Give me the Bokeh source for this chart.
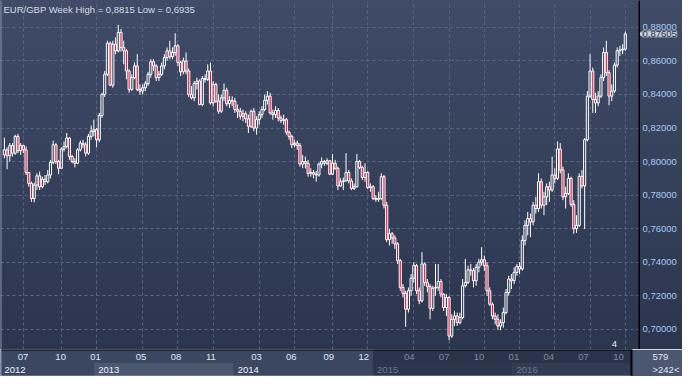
import math
import pandas as pd
from bokeh.plotting import figure
from bokeh.layouts import column, row
from bokeh.models import (Range1d, FixedTicker, Grid, Label, Span, ColumnDataSource)
from bokeh.embed import file_html
from bokeh.resources import INLINE
from bokeh.core.properties import value

FONT = "Liberation Sans"

# ---------------- data (weekly EUR/GBP candles) ----------------
title_text = "EUR/GBP Week High = 0,8815 Low = 0,6935"
first_week = "2012-05-13"

opens = [
    0.8040, 0.8070, 0.8035, 0.8095, 0.8050, 0.8150, 0.8065, 0.8095, 0.8070, 0.7935,
    0.7870, 0.7780, 0.7860, 0.7915, 0.7850, 0.7895, 0.7880, 0.7920, 0.7995, 0.8100,
    0.8000, 0.7960, 0.8075, 0.8090, 0.8140, 0.8030, 0.8000, 0.7990, 0.8070, 0.8110,
    0.8100, 0.8050, 0.8150, 0.8180, 0.8190, 0.8130, 0.8275, 0.8400, 0.8520, 0.8705,
    0.8455, 0.8700, 0.8660, 0.8770, 0.8680, 0.8660, 0.8540, 0.8430, 0.8500, 0.8570,
    0.8430, 0.8420, 0.8440, 0.8465, 0.8520, 0.8595, 0.8570, 0.8500, 0.8520, 0.8570,
    0.8620, 0.8660, 0.8625, 0.8650, 0.8690, 0.8590, 0.8535, 0.8600, 0.8540, 0.8400,
    0.8380, 0.8465, 0.8480, 0.8340, 0.8495, 0.8490, 0.8540, 0.8350, 0.8460, 0.8360,
    0.8300, 0.8380, 0.8425, 0.8345, 0.8365, 0.8360, 0.8310, 0.8300, 0.8270, 0.8285,
    0.8255, 0.8210, 0.8300, 0.8200, 0.8250, 0.8280, 0.8310, 0.8365, 0.8390, 0.8290,
    0.8280, 0.8305, 0.8260, 0.8245, 0.8250, 0.8175, 0.8150, 0.8100, 0.8110, 0.8095,
    0.7985, 0.8000, 0.7990, 0.7930, 0.7935, 0.7925, 0.7920, 0.7985, 0.8000, 0.7990,
    0.8005, 0.7925, 0.7990, 0.7960, 0.7855, 0.7880, 0.7885, 0.7935, 0.7885, 0.7840,
    0.7850, 0.8000, 0.7965, 0.7905, 0.7935, 0.7845, 0.7850, 0.7780, 0.7775, 0.7780,
    0.7910, 0.7740, 0.7535, 0.7570, 0.7545, 0.7510, 0.7410, 0.7250, 0.7215, 0.7120,
    0.7230, 0.7305, 0.7380, 0.7230, 0.7170, 0.7390, 0.7280, 0.7255, 0.7125, 0.7245,
    0.7250, 0.7285, 0.7210, 0.7130, 0.7190, 0.6960, 0.7060, 0.7080, 0.7040, 0.7070,
    0.7260, 0.7280, 0.7355, 0.7350, 0.7290, 0.7370, 0.7400, 0.7415, 0.7380, 0.7230,
    0.7150, 0.7080, 0.7060, 0.7020, 0.7040, 0.7100, 0.7220, 0.7300, 0.7290, 0.7340,
    0.7375, 0.7360, 0.7530, 0.7620, 0.7660, 0.7640, 0.7740, 0.7720, 0.7880, 0.7740,
    0.7790, 0.7850, 0.7830, 0.7920, 0.7900, 0.8075, 0.7950, 0.7790, 0.7810, 0.7900,
    0.7745, 0.7600, 0.7620, 0.7912, 0.7855, 0.8130, 0.8390, 0.8540, 0.8370, 0.8350,
    0.8390, 0.8500, 0.8650, 0.8530, 0.8390, 0.8420, 0.8575, 0.8660, 0.8665, 0.8670,
]
highs = [
    0.8143, 0.8085, 0.8110, 0.8110, 0.8160, 0.8165, 0.8110, 0.8100, 0.8090, 0.7935,
    0.7880, 0.7875, 0.7930, 0.7940, 0.7910, 0.7920, 0.7950, 0.8010, 0.8125, 0.8110,
    0.8010, 0.8085, 0.8120, 0.8170, 0.8145, 0.8040, 0.8020, 0.8080, 0.8125, 0.8130,
    0.8115, 0.8165, 0.8215, 0.8250, 0.8200, 0.8290, 0.8410, 0.8540, 0.8720, 0.8715,
    0.8720, 0.8740, 0.8815, 0.8790, 0.8720, 0.8670, 0.8550, 0.8520, 0.8590, 0.8640,
    0.8460, 0.8460, 0.8480, 0.8535, 0.8610, 0.8610, 0.8580, 0.8540, 0.8590, 0.8640,
    0.8680, 0.8720, 0.8680, 0.8765, 0.8700, 0.8600, 0.8620, 0.8650, 0.8555, 0.8450,
    0.8480, 0.8500, 0.8490, 0.8510, 0.8520, 0.8580, 0.8590, 0.8480, 0.8470, 0.8400,
    0.8400, 0.8465, 0.8440, 0.8390, 0.8390, 0.8380, 0.8340, 0.8320, 0.8310, 0.8300,
    0.8280, 0.8310, 0.8320, 0.8270, 0.8300, 0.8330, 0.8400, 0.8420, 0.8410, 0.8310,
    0.8330, 0.8320, 0.8275, 0.8280, 0.8260, 0.8185, 0.8160, 0.8130, 0.8125, 0.8110,
    0.8040, 0.8030, 0.8010, 0.7960, 0.7950, 0.7945, 0.7995, 0.8025, 0.8010, 0.8020,
    0.8010, 0.8045, 0.8010, 0.7970, 0.7900, 0.7905, 0.8050, 0.7950, 0.7900, 0.7870,
    0.8045, 0.8010, 0.7975, 0.7990, 0.7945, 0.7870, 0.7860, 0.7800, 0.7820, 0.7930,
    0.7920, 0.7760, 0.7600, 0.7580, 0.7560, 0.7520, 0.7420, 0.7270, 0.7230, 0.7250,
    0.7330, 0.7400, 0.7390, 0.7250, 0.7460, 0.7400, 0.7300, 0.7270, 0.7260, 0.7390,
    0.7390, 0.7300, 0.7215, 0.7210, 0.7200, 0.7090, 0.7110, 0.7100, 0.7100, 0.7300,
    0.7420, 0.7380, 0.7390, 0.7365, 0.7390, 0.7420, 0.7490, 0.7440, 0.7400, 0.7250,
    0.7160, 0.7100, 0.7090, 0.7060, 0.7130, 0.7240, 0.7320, 0.7330, 0.7370, 0.7390,
    0.7400, 0.7560, 0.7650, 0.7700, 0.7690, 0.7760, 0.7790, 0.7930, 0.7900, 0.7820,
    0.7870, 0.7880, 0.8030, 0.7960, 0.8120, 0.8110, 0.7970, 0.7850, 0.7930, 0.7910,
    0.7770, 0.7680, 0.7930, 0.7950, 0.8140, 0.8420, 0.8640, 0.8560, 0.8410, 0.8420,
    0.8520, 0.8680, 0.8720, 0.8545, 0.8460, 0.8590, 0.8680, 0.8690, 0.8700, 0.8775,
]
lows = [
    0.8020, 0.7955, 0.8000, 0.8030, 0.8040, 0.8050, 0.8040, 0.8050, 0.7920, 0.7850,
    0.7760, 0.7757, 0.7830, 0.7830, 0.7840, 0.7860, 0.7870, 0.7900, 0.7985, 0.7985,
    0.7925, 0.7960, 0.8060, 0.8080, 0.8010, 0.7990, 0.7965, 0.7985, 0.8060, 0.8080,
    0.8030, 0.8040, 0.8130, 0.8150, 0.8085, 0.8115, 0.8260, 0.8385, 0.8510, 0.8450,
    0.8440, 0.8640, 0.8650, 0.8655, 0.8580, 0.8490, 0.8410, 0.8420, 0.8490, 0.8420,
    0.8400, 0.8400, 0.8420, 0.8450, 0.8500, 0.8540, 0.8480, 0.8480, 0.8510, 0.8550,
    0.8600, 0.8610, 0.8610, 0.8630, 0.8570, 0.8510, 0.8520, 0.8520, 0.8385, 0.8370,
    0.8360, 0.8430, 0.8335, 0.8330, 0.8470, 0.8480, 0.8340, 0.8330, 0.8350, 0.8285,
    0.8290, 0.8360, 0.8330, 0.8320, 0.8330, 0.8290, 0.8260, 0.8250, 0.8240, 0.8230,
    0.8170, 0.8200, 0.8180, 0.8160, 0.8220, 0.8260, 0.8300, 0.8340, 0.8280, 0.8250,
    0.8260, 0.8240, 0.8230, 0.8220, 0.8160, 0.8130, 0.8080, 0.8085, 0.8070, 0.7970,
    0.7960, 0.7960, 0.7910, 0.7910, 0.7900, 0.7880, 0.7910, 0.7960, 0.7975, 0.7980,
    0.7920, 0.7920, 0.7950, 0.7830, 0.7850, 0.7830, 0.7880, 0.7870, 0.7830, 0.7830,
    0.7845, 0.7955, 0.7890, 0.7880, 0.7835, 0.7820, 0.7770, 0.7760, 0.7760, 0.7770,
    0.7720, 0.7520, 0.7500, 0.7510, 0.7480, 0.7390, 0.7230, 0.7190, 0.7015, 0.7100,
    0.7200, 0.7280, 0.7210, 0.7150, 0.7160, 0.7260, 0.7220, 0.7060, 0.7110, 0.7200,
    0.7230, 0.7190, 0.7110, 0.7080, 0.6935, 0.6950, 0.7020, 0.7020, 0.7030, 0.7060,
    0.7250, 0.7270, 0.7320, 0.7250, 0.7260, 0.7340, 0.7380, 0.7350, 0.7200, 0.7140,
    0.7060, 0.7030, 0.6998, 0.6995, 0.7010, 0.7090, 0.7200, 0.7240, 0.7270, 0.7320,
    0.7330, 0.7350, 0.7500, 0.7560, 0.7550, 0.7620, 0.7690, 0.7700, 0.7720, 0.7680,
    0.7740, 0.7760, 0.7820, 0.7870, 0.7890, 0.7930, 0.7770, 0.7720, 0.7800, 0.7730,
    0.7570, 0.7575, 0.7610, 0.7840, 0.7598, 0.8120, 0.8380, 0.8290, 0.8290, 0.8330,
    0.8380, 0.8480, 0.8510, 0.8335, 0.8360, 0.8410, 0.8560, 0.8630, 0.8640, 0.8660,
]
closes = [
    0.8070, 0.8035, 0.8095, 0.8050, 0.8150, 0.8065, 0.8095, 0.8070, 0.7935, 0.7870,
    0.7780, 0.7860, 0.7915, 0.7850, 0.7895, 0.7880, 0.7920, 0.7995, 0.8100, 0.8000,
    0.7960, 0.8075, 0.8090, 0.8140, 0.8030, 0.8000, 0.7990, 0.8070, 0.8110, 0.8100,
    0.8050, 0.8150, 0.8180, 0.8190, 0.8130, 0.8275, 0.8400, 0.8520, 0.8705, 0.8455,
    0.8700, 0.8660, 0.8770, 0.8680, 0.8660, 0.8540, 0.8430, 0.8500, 0.8570, 0.8430,
    0.8420, 0.8440, 0.8465, 0.8520, 0.8595, 0.8570, 0.8500, 0.8520, 0.8570, 0.8620,
    0.8660, 0.8625, 0.8650, 0.8690, 0.8590, 0.8535, 0.8600, 0.8540, 0.8400, 0.8380,
    0.8465, 0.8480, 0.8340, 0.8495, 0.8490, 0.8540, 0.8350, 0.8460, 0.8360, 0.8300,
    0.8380, 0.8425, 0.8345, 0.8365, 0.8360, 0.8310, 0.8300, 0.8270, 0.8285, 0.8255,
    0.8210, 0.8300, 0.8200, 0.8250, 0.8280, 0.8310, 0.8365, 0.8390, 0.8290, 0.8280,
    0.8305, 0.8260, 0.8245, 0.8250, 0.8175, 0.8150, 0.8100, 0.8110, 0.8095, 0.7985,
    0.8000, 0.7990, 0.7930, 0.7935, 0.7925, 0.7920, 0.7985, 0.8000, 0.7990, 0.8005,
    0.7925, 0.7990, 0.7960, 0.7855, 0.7880, 0.7885, 0.7935, 0.7885, 0.7840, 0.7850,
    0.8000, 0.7965, 0.7905, 0.7935, 0.7845, 0.7850, 0.7780, 0.7775, 0.7780, 0.7910,
    0.7740, 0.7535, 0.7570, 0.7545, 0.7510, 0.7410, 0.7250, 0.7215, 0.7120, 0.7230,
    0.7305, 0.7380, 0.7230, 0.7170, 0.7390, 0.7280, 0.7255, 0.7125, 0.7245, 0.7250,
    0.7285, 0.7210, 0.7130, 0.7190, 0.6960, 0.7060, 0.7080, 0.7040, 0.7070, 0.7260,
    0.7280, 0.7355, 0.7350, 0.7290, 0.7370, 0.7400, 0.7415, 0.7380, 0.7230, 0.7150,
    0.7080, 0.7060, 0.7020, 0.7040, 0.7100, 0.7220, 0.7300, 0.7290, 0.7340, 0.7375,
    0.7360, 0.7530, 0.7620, 0.7660, 0.7640, 0.7740, 0.7720, 0.7880, 0.7740, 0.7790,
    0.7850, 0.7830, 0.7920, 0.7900, 0.8075, 0.7950, 0.7790, 0.7810, 0.7900, 0.7745,
    0.7600, 0.7620, 0.7912, 0.7855, 0.8130, 0.8390, 0.8540, 0.8370, 0.8350, 0.8390,
    0.8500, 0.8650, 0.8530, 0.8390, 0.8420, 0.8575, 0.8660, 0.8665, 0.8670, 0.87605,
]

price_ticks = [0.70, 0.72, 0.74, 0.76, 0.78, 0.80, 0.82, 0.84, 0.86, 0.88]
month_ticks = ["2012-07", "2012-10", "2013-01", "2013-05", "2013-08", "2013-11",
               "2014-03", "2014-06", "2014-09", "2014-12", "2015-04", "2015-07",
               "2015-10", "2016-01", "2016-04", "2016-07", "2016-10"]
years = [2012, 2013, 2014, 2015, 2016]
last_price = 0.87605
corner_top_text = "579"
corner_bottom_text = ">242<"
marker_text = "4"

# ---------------- styles ----------------
BG_GRADIENT = "linear-gradient(to bottom, #3f4b67 0%, #2b354e 100%)"
UP_FILL = "#36415c"
DOWN_FILL = "#e3163c"
CANDLE_LINE = "#ffffff"
GRID_COLOR = "#5a6782"
AXIS_TEXT = "#a9c9f2"
TITLE_COLOR = "#d8dce4"
BRIGHT_MONTH = "#dce7f8"
DIM_MONTH = "#7f8aa0"
BRIGHT_YEAR = "#eef2f8"
DIM_YEAR = "#6e798f"
ROW_BRIGHT = "#3b4760"
ROW_DIM = "#29334a"
YEAR_CELL = ["#3b4760", "#4a576e", "#3b4760", "#2b354b", "#313c53"]
DIM_FROM_YEAR = 2015
FS = "9.5px"
MAIN_W, SIDE_W, MAIN_H, BAND_H = 638, 44, 349, 27


def price_fmt(v):
    return f"{v:.5f}".replace(".", ",")


n = len(closes)
dates = pd.date_range(first_week, periods=n, freq="7D")
idx = list(range(n))


def first_bar(year, month=None):
    for i, d in enumerate(dates):
        if d.year == year and (month is None or d.month == month):
            return i
    return None


XS, XE = -1.43, 233.86
YS, YE = 0.688, 0.896
y_range = Range1d(YS, YE)
x_range = Range1d(XS, XE)

# ---------------- main chart ----------------
p = figure(width=MAIN_W, height=MAIN_H, x_range=x_range, y_range=y_range,
           output_backend="svg", toolbar_location=None, x_axis_location=None,
           y_axis_location=None, min_border=0,
           background_fill_color=None, border_fill_color=None, outline_line_color=None)
p.styles = {"background": BG_GRADIENT}
p.xgrid.visible = False
p.ygrid.visible = False

tick_pos = [first_bar(int(s[:4]), int(s[5:])) for s in month_ticks]
tick_text = [s[5:] for s in month_ticks]

p.add_layout(Grid(dimension=0, ticker=FixedTicker(ticks=tick_pos), grid_line_color=GRID_COLOR,
                  grid_line_dash="3 3", grid_line_width=1))
p.add_layout(Grid(dimension=1, ticker=FixedTicker(ticks=price_ticks), grid_line_color=GRID_COLOR,
                  grid_line_dash="3 3", grid_line_width=1))
p.add_layout(Span(location=XS, dimension="height", line_color="#8a95a9", line_width=2))

body_top = [max(o, c) for o, c in zip(opens, closes)]
body_bot = [min(o, c) for o, c in zip(opens, closes)]
src = ColumnDataSource(dict(x=idx, o=opens, h=highs, l=lows, c=closes, bt=body_top, bb=body_bot,
                            fill=[DOWN_FILL if c < o else UP_FILL for o, c in zip(opens, closes)],
                            alpha=[1.0 if c < o else 0.0 for o, c in zip(opens, closes)]))
p.segment(x0="x", y0="bt", x1="x", y1="h", source=src, line_color=CANDLE_LINE, line_width=1)
p.segment(x0="x", y0="bb", x1="x", y1="l", source=src, line_color=CANDLE_LINE, line_width=1)
p.vbar(x="x", width=0.78, top="bt", bottom="bb", source=src, fill_color="fill",
       fill_alpha="alpha", line_color=CANDLE_LINE, line_width=1)

p.add_layout(Label(x=XS, y=YE, x_offset=3, y_offset=-3, text=title_text,
                   text_baseline="top", text_align="left", text_color=TITLE_COLOR,
                   text_font=FONT, text_font_size=FS))
p.add_layout(Label(x=n - 5, y=YS, y_offset=3, text=marker_text, text_baseline="bottom",
                   text_align="center", text_color="#e6ecf6", text_font=FONT,
                   text_font_size=FS))

# ---------------- price scale (right column) ----------------
side = figure(width=SIDE_W, height=MAIN_H, x_range=Range1d(0, 1), y_range=y_range,
              output_backend="svg", toolbar_location=None, x_axis_location=None,
              y_axis_location=None, min_border=0,
              background_fill_color=None, border_fill_color=None, outline_line_color=None)
side.styles = {"background": BG_GRADIENT}
side.xgrid.visible = False
side.ygrid.visible = False
side.text(x=0, y=price_ticks, text=[price_fmt(v) for v in price_ticks], x_offset=4,
          text_align="left", text_baseline="middle", text_color=AXIS_TEXT,
          text_font=value(FONT), text_font_size=FS)
side.add_layout(Span(location=0, dimension="height", line_color="#000000", line_width=3))
side.scatter(x=[0.07], y=[last_price], marker="triangle", angle=math.pi / 2, size=7,
             fill_color="#c9cfd9", line_color=None)
side.add_layout(Label(x=0, y=last_price, x_offset=4, text=price_fmt(last_price),
                      text_baseline="middle", text_align="left", text_color="#27324a",
                      text_font=FONT, text_font_size=FS,
                      background_fill_color="#c9cfd9", border_line_color="#98a2b3"))

# ---------------- time band ----------------
p2 = figure(width=MAIN_W + SIDE_W, height=BAND_H, x_range=x_range, y_range=Range1d(0, 2),
            output_backend="svg", toolbar_location=None, x_axis_location=None,
            y_axis_location="right", min_border_left=0, min_border_top=0,
            min_border_bottom=0, min_border_right=SIDE_W,
            background_fill_color=ROW_BRIGHT, border_fill_color="#4b5770",
            outline_line_color=None)
p2.xgrid.visible = False
p2.ygrid.visible = False

year_left = [XS] + [first_bar(y) - 0.5 for y in years[1:]]
year_right = year_left[1:] + [XE]
dim_left = first_bar(DIM_FROM_YEAR) - 0.5
p2.quad(left=[dim_left], right=[XE], bottom=[1], top=[2], fill_color=ROW_DIM, line_color=None)
p2.quad(left=year_left, right=year_right, bottom=0, top=1, fill_color=YEAR_CELL,
        line_color=None)

month_years = [int(s[:4]) for s in month_ticks]
p2.text(x=tick_pos, y=1.45, text=tick_text, text_align="center", text_baseline="middle",
        text_font=value(FONT), text_font_size=FS,
        text_color=[BRIGHT_MONTH if y < DIM_FROM_YEAR else DIM_MONTH for y in month_years])
p2.text(x=year_left, y=0.45, x_offset=4, text=[str(y) for y in years], text_align="left",
        text_baseline="middle", text_font=value(FONT), text_font_size=FS,
        text_color=[BRIGHT_YEAR if y < DIM_FROM_YEAR else DIM_YEAR for y in years])

p2.add_layout(Span(location=2, dimension="width", line_color="#000000", line_width=2))
p2.add_layout(Span(location=0, dimension="width", line_color="#8c97ab", line_width=2))
p2.add_layout(Span(location=XS, dimension="height", line_color="#8a95a9", line_width=2))

ax2 = p2.yaxis[0]
ax2.ticker = FixedTicker(ticks=[0.5, 1.5])
ax2.major_label_overrides = {1.5: corner_top_text, 0.5: corner_bottom_text}
ax2.axis_line_color = "#000000"
ax2.axis_line_width = 2
ax2.major_tick_line_color = None
ax2.minor_tick_line_color = None
ax2.major_tick_out = 0
ax2.major_tick_in = 0
ax2.major_label_standoff = 21
ax2.major_label_text_align = "center"
ax2.major_label_text_color = "#e2e8f2"
ax2.major_label_text_font = FONT
ax2.major_label_text_font_size = FS

layout = column(row(p, side, spacing=0), p2, spacing=0)
open("out.html", "w").write(file_html(layout, INLINE))
